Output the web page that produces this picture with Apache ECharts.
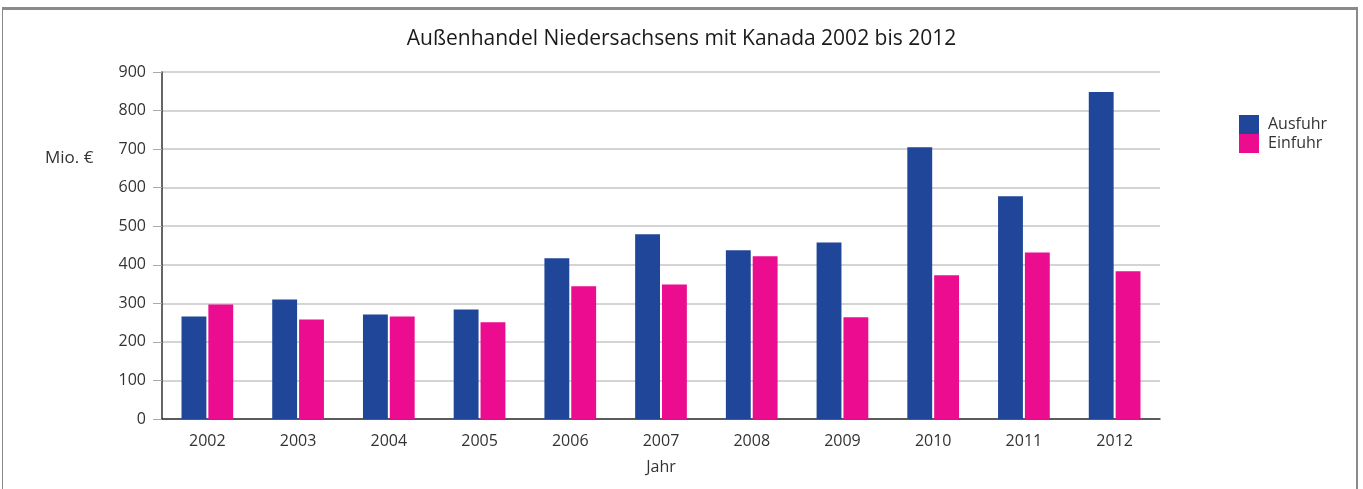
<!DOCTYPE html>
<html>
<head>
<meta charset="utf-8">
<script src="https://cdn.jsdelivr.net/npm/echarts@6/dist/echarts.min.js"></script>
<style>
  html, body { margin: 0; padding: 0; background: #fff; }
  #frame {
    position: absolute; left: 2px; top: 7px; width: 1353px; height: 490px;
    border-top: 3px solid #8a8a8a; border-left: 1px solid #8a8a8a; border-right: 2px solid #8a8a8a;
  }
  #chart { position: absolute; left: 0; top: 0; width: 1363px; height: 489px; }
</style>
</head>
<body>
<div id="frame"></div>
<div id="chart"></div>
<script>
const years = ['2002', '2003', '2004', '2005', '2006', '2007', '2008', '2009', '2010', '2011', '2012'];
const ausfuhr = [266, 310, 271, 284, 417, 479, 438, 458, 705, 578, 848];
const einfuhr = [297, 258, 266, 251, 344, 349, 422, 264, 373, 432, 383];
const colors = ['#1f4698', '#eb0c8f'];

const chart = echarts.init(document.getElementById('chart'));
const font = '"Open Sans", "Noto Sans", sans-serif';

const bar = {
  type: 'bar',
  barGap: '8%',
  barCategoryGap: '43%'
};

chart.setOption({
  textStyle: { fontFamily: font },
  title: {
    text: 'Außenhandel Niedersachsens mit Kanada 2002 bis 2012',
    left: 'center',
    top: 24,
    textStyle: { fontSize: 21, fontWeight: 'normal', color: '#1a1a1a', fontFamily: font }
  },
  legend: {
    orient: 'vertical',
    left: 1234,
    top: 110,
    itemWidth: 20,
    itemHeight: 19,
    itemGap: 0,
    icon: 'rect',
    textStyle: { fontSize: 16, color: '#333', fontFamily: font, padding: [0, 0, 3, 4] },
    data: ['Ausfuhr', 'Einfuhr']
  },
  grid: { left: 162, right: 203, top: 72, bottom: 70 },
  xAxis: {
    type: 'category',
    data: years,
    name: 'Jahr',
    nameLocation: 'middle',
    nameGap: 40,
    nameTextStyle: { fontSize: 16, color: '#333' },
    axisLine: { lineStyle: { color: '#333', width: 1.5 } },
    axisTick: { show: false },
    axisLabel: { fontSize: 16, color: '#333', margin: 14 }
  },
  yAxis: {
    type: 'value',
    min: 0,
    max: 900,
    interval: 100,
    axisLine: { show: true, lineStyle: { color: '#333', width: 1.5 } },
    axisTick: { show: true, length: 9, lineStyle: { color: '#aaa' } },
    axisLabel: { fontSize: 16, color: '#333', margin: 16 },
    splitLine: { lineStyle: { color: '#c6c6c6', width: 1.5 } }
  },
  graphic: [{
    type: 'text',
    left: 45,
    top: 150,
    style: { text: 'Mio. €', fontSize: 17, fill: '#333', fontFamily: font }
  }],
  series: [
    Object.assign({}, bar, { name: 'Ausfuhr', data: ausfuhr, itemStyle: { color: colors[0] } }),
    Object.assign({}, bar, { name: 'Einfuhr', data: einfuhr, itemStyle: { color: colors[1] } })
  ]
});
</script>
</body>
</html>
